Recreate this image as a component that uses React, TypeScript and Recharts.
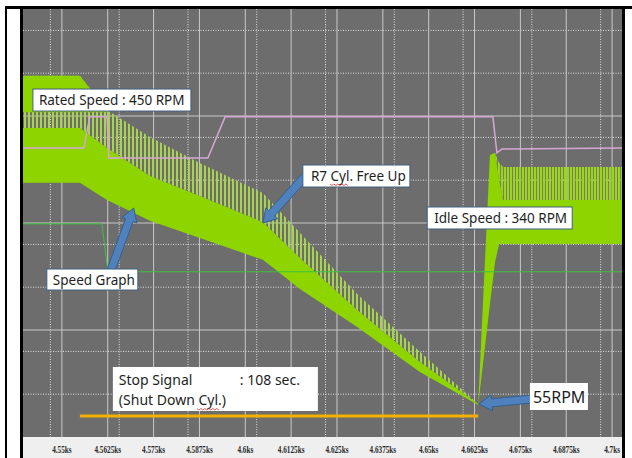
import React from "react";
import {
  ComposedChart,
  Area,
  Line,
  XAxis,
  YAxis,
  CartesianGrid,
  ReferenceLine,
  ReferenceDot,
} from "recharts";

// time axis, in ks
const tickValues = [4.55, 4.5625, 4.575, 4.5875, 4.6, 4.6125, 4.625, 4.6375, 4.65, 4.6625, 4.675, 4.6875, 4.7];
const tickLabels = [
  "4.55ks", "4.5625ks", "4.575ks", "4.5875ks", "4.6ks", "4.6125ks", "4.625ks",
  "4.6375ks", "4.65ks", "4.6625ks", "4.675ks", "4.6875ks", "4.7ks",
];
const xDomain = [4.5394, 4.7027];

// speed signal envelope: peak of the firing spikes, top of the dense part, floor
const bandTime = [4.5394, 4.5549, 4.5623, 4.574, 4.5876, 4.6048, 4.6149, 4.6305, 4.6476, 4.6635, 4.6667, 4.6681, 4.6692, 4.6703, 4.7027];
const bandPeak = [84.4, 84.4, 76.4, 70.1, 64.0, 57.0, 47.7, 33.4, 19.9, 7.7, 65.9, 66.4, 64.0, 63.1, 63.1];
const bandDense = [72.2, 72.2, 67.5, 61.0, 56.3, 50.2, 41.8, 29.7, 17.5, 7.7, 65.9, 66.4, 60.0, 55.4, 55.4];
const bandFloor = [59.4, 59.4, 55.4, 50.5, 46.5, 41.4, 34.6, 25.7, 15.2, 7.5, 31.1, 40.9, 45.1, 45.1, 45.1];

// dense block while running at rated speed
const blockTime = [4.5394, 4.5549, 4.5623];
const blockTop = [84.4, 84.4, 76.4];
const blockBottom = [75.9, 75.9, 75.9];

// speed set point (pink trace)
const setTime = [4.5394, 4.556, 4.5576, 4.5623, 4.5628, 4.5898, 4.5945, 4.6675, 4.6686, 4.67, 4.7027];
const setValue = [67.5, 67.5, 74.8, 74.8, 65.2, 65.2, 74.8, 74.8, 66.4, 67.3, 67.5];

// auxiliary green trace
const auxTime = [4.5394, 4.5609, 4.5625, 4.5631, 4.7027];
const auxValue = [49.8, 49.8, 39.0, 38.6, 38.6];

// stop signal
const stopTime = [4.5549, 4.6635];
const stopValue = [4.9, 4.9];

const rows = bandTime.map((t, i) => ({
  t,
  hatch: [bandDense[i], bandPeak[i]],
  solid: [bandFloor[i], bandDense[i]],
}));
const fallRows = rows.slice(0, 10);
const idleRows = rows.slice(11);
const blockRows = blockTime.map((t, i) => ({ t, band: [blockBottom[i], blockTop[i]] }));
const setRows = setTime.map((t, i) => ({ t, v: setValue[i] }));
const auxRows = auxTime.map((t, i) => ({ t, v: auxValue[i] }));
const stopRows = stopTime.map((t, i) => ({ t, v: stopValue[i] }));

// grid: 4 minor steps per time tick, 5 per major row
const xMinor: number[] = [];
for (let k = -3; k <= 48; k++) if (k % 4 !== 0) xMinor.push(+(4.55 + k * 0.003125).toFixed(6));
const yMinor = [5, 10, 15, 20, 30, 35, 40, 45, 55, 60, 65, 70, 80, 85, 90, 95];
const yMajor = [25, 50, 75];

const GREEN = "#8ed500";
const FONT = "'Noto Sans', 'Open Sans', sans-serif";

type Note = {
  t: number;
  v: number;
  w: number;
  h: number;
  size: number;
  border: boolean;
  parts: { text: string; dx: number; dy: number }[];
  squiggle?: { dx: number; dy: number; w: number };
};

const notes: Note[] = [
  { t: 4.5421, v: 81.3, w: 158, h: 22, size: 13.5, border: true, parts: [{ text: "Rated Speed : 450 RPM", dx: 6, dy: 16 }] },
  {
    t: 4.6157, v: 63.55, w: 107, h: 22, size: 13.5, border: true,
    parts: [{ text: "R7 Cyl. Free Up", dx: 8, dy: 16 }],
    squiggle: { dx: 27, dy: 19, w: 18 },
  },
  { t: 4.6496, v: 53.74, w: 145, h: 22, size: 13.5, border: true, parts: [{ text: "Idle Speed : 340 RPM", dx: 7, dy: 16 }] },
  { t: 4.5459, v: 39.25, w: 91, h: 21, size: 13.5, border: true, parts: [{ text: "Speed Graph", dx: 6, dy: 15.5 }] },
  {
    t: 4.5639, v: 16.36, w: 205, h: 44, size: 14, border: false,
    parts: [
      { text: "Stop Signal", dx: 6, dy: 18 },
      { text: ": 108 sec.", dx: 127, dy: 18 },
      { text: "(Shut Down Cyl.)", dx: 6, dy: 38 },
    ],
    squiggle: { dx: 84, dy: 41.5, w: 22 },
  },
  { t: 4.6776, v: 12.62, w: 58, h: 27, size: 16, border: false, parts: [{ text: "55RPM", dx: 3, dy: 20 }] },
];

// arrows: tail -> tip
const arrows = [
  { from: [4.5634, 39.0], to: [4.5696, 53.5] },
  { from: [4.6166, 61.2], to: [4.6048, 50.0] },
  { from: [4.6782, 8.9], to: [4.6637, 7.7] },
];

function NoteBox(props: any) {
  const { cx, cy, note } = props;
  const n: Note = note;
  let squiggle = null;
  if (n.squiggle) {
    const s = n.squiggle;
    let d = `M${cx + s.dx},${cy + s.dy}`;
    for (let i = 1; i <= s.w / 2; i++) d += ` L${cx + s.dx + i * 2},${cy + s.dy + (i % 2 ? 1.5 : 0)}`;
    squiggle = <path d={d} fill="none" stroke="#e03030" strokeWidth={0.8} />;
  }
  return (
    <g>
      <rect
        x={cx}
        y={cy}
        width={n.w}
        height={n.h}
        fill="#ffffff"
        stroke={n.border ? "#41607f" : "none"}
        strokeWidth={1}
      />
      {n.parts.map((p, i) => (
        <text key={i} x={cx + p.dx} y={cy + p.dy} fontFamily={FONT} fontSize={n.size} fill="#1e1e1e">
          {p.text}
        </text>
      ))}
      {squiggle}
    </g>
  );
}

function Arrow(props: any) {
  const { x1, y1, x2, y2 } = props;
  const shaft = 8;
  const head = 16;
  const headLen = 13;
  const len = Math.hypot(x2 - x1, y2 - y1) || 1;
  const ux = (x2 - x1) / len;
  const uy = (y2 - y1) / len;
  const nx = -uy;
  const ny = ux;
  const bx = x2 - ux * headLen;
  const by = y2 - uy * headLen;
  const pts = [
    [x1 + (nx * shaft) / 2, y1 + (ny * shaft) / 2],
    [bx + (nx * shaft) / 2, by + (ny * shaft) / 2],
    [bx + (nx * head) / 2, by + (ny * head) / 2],
    [x2, y2],
    [bx - (nx * head) / 2, by - (ny * head) / 2],
    [bx - (nx * shaft) / 2, by - (ny * shaft) / 2],
    [x1 - (nx * shaft) / 2, y1 - (ny * shaft) / 2],
  ];
  return (
    <polygon
      points={pts.map((p) => p.join(",")).join(" ")}
      fill="#4f81bd"
      stroke="#35608f"
      strokeWidth={1}
    />
  );
}

function TimeTick(props: any) {
  const { x, y, payload } = props;
  const i = tickValues.findIndex((v) => Math.abs(v - payload.value) < 1e-6);
  return (
    <text
      transform={`translate(${x},${y + 16}) scale(0.72,1)`}
      textAnchor="middle"
      fontFamily="'Liberation Serif', 'Times New Roman', serif"
      fontWeight={700}
      fontSize={10}
      fill="#2a2a2a"
    >
      {i >= 0 ? tickLabels[i] : ""}
    </text>
  );
}

export default function App() {
  return (
    <div style={{ position: "absolute", left: 0, top: 0, width: 632, height: 458, background: "#ffffff", overflow: "hidden" }}>
      {/* frame */}
      <div style={{ position: "absolute", left: 5, top: 6, width: 627, height: 3, background: "#000" }} />
      <div style={{ position: "absolute", left: 5, top: 6, width: 2, height: 452, background: "#000" }} />
      <div style={{ position: "absolute", left: 20, top: 6, width: 3, height: 452, background: "#000" }} />
      <div style={{ position: "absolute", left: 622, top: 6, width: 3, height: 452, background: "#000" }} />
      <div style={{ position: "absolute", left: 23, top: 9, width: 599, height: 428, background: "#6d6d6d" }} />
      <div style={{ position: "absolute", left: 23, top: 437, width: 599, height: 21, background: "#efefef" }} />
      <div style={{ position: "absolute", left: 0, top: 0 }}>
        <ComposedChart width={632} height={458} margin={{ top: 9, right: 10, bottom: 0, left: 23 }}>
          <defs>
            <pattern id="hatchFall" width="4" height="8" patternUnits="userSpaceOnUse">
              <rect x="0" y="0" width="2" height="8" fill="#a8d34c" />
            </pattern>
            <pattern id="hatchIdle" width="3" height="8" patternUnits="userSpaceOnUse">
              <rect x="0" y="0" width="2.2" height="8" fill="#9bd520" />
            </pattern>
          </defs>
          <CartesianGrid
            horizontalValues={yMinor}
            verticalValues={xMinor}
            stroke="#e2e2e2"
            strokeDasharray="1 1.5"
          />
          <CartesianGrid
            horizontalValues={yMajor}
            verticalValues={tickValues}
            stroke="#c8c8c8"
          />
          <XAxis
            dataKey="t"
            type="number"
            domain={xDomain}
            allowDataOverflow
            ticks={tickValues}
            tick={<TimeTick />}
            tickLine={false}
            axisLine={false}
            tickSize={0}
            tickMargin={0}
            height={21}
          />
          <YAxis type="number" domain={[0, 100]} hide allowDataOverflow />
          <Area
            data={fallRows}
            dataKey="hatch"
            type="linear"
            stroke="none"
            fill="url(#hatchFall)"
            fillOpacity={1}
            isAnimationActive={false}
            dot={false}
            activeDot={false}
          />
          <Area
            data={idleRows}
            dataKey="hatch"
            type="linear"
            stroke="none"
            fill="url(#hatchIdle)"
            fillOpacity={1}
            isAnimationActive={false}
            dot={false}
            activeDot={false}
          />
          <Area
            data={rows}
            dataKey="solid"
            type="linear"
            stroke="none"
            fill={GREEN}
            fillOpacity={1}
            isAnimationActive={false}
            dot={false}
            activeDot={false}
          />
          <Area
            data={blockRows}
            dataKey="band"
            type="linear"
            stroke="none"
            fill={GREEN}
            fillOpacity={1}
            isAnimationActive={false}
            dot={false}
            activeDot={false}
          />
          <Line
            data={auxRows}
            dataKey="v"
            type="linear"
            stroke="#3cc43c"
            strokeWidth={1}
            dot={false}
            activeDot={false}
            isAnimationActive={false}
          />
          <Line
            data={setRows}
            dataKey="v"
            type="linear"
            stroke="#d8a6d6"
            strokeWidth={1.5}
            dot={false}
            activeDot={false}
            isAnimationActive={false}
          />
          <Line
            data={stopRows}
            dataKey="v"
            type="linear"
            stroke="#f4b000"
            strokeWidth={3}
            dot={false}
            activeDot={false}
            isAnimationActive={false}
          />
          {arrows.map((a, i) => (
            <ReferenceLine
              key={`arrow-${i}`}
              segment={[
                { x: a.from[0], y: a.from[1] },
                { x: a.to[0], y: a.to[1] },
              ]}
              ifOverflow="visible"
              shape={(p: any) => <Arrow {...p} />}
            />
          ))}
          {notes.map((n, i) => (
            <ReferenceDot
              key={`note-${i}`}
              x={n.t}
              y={n.v}
              r={0}
              ifOverflow="visible"
              shape={(p: any) => <NoteBox {...p} note={n} />}
            />
          ))}
        </ComposedChart>
      </div>
    </div>
  );
}
